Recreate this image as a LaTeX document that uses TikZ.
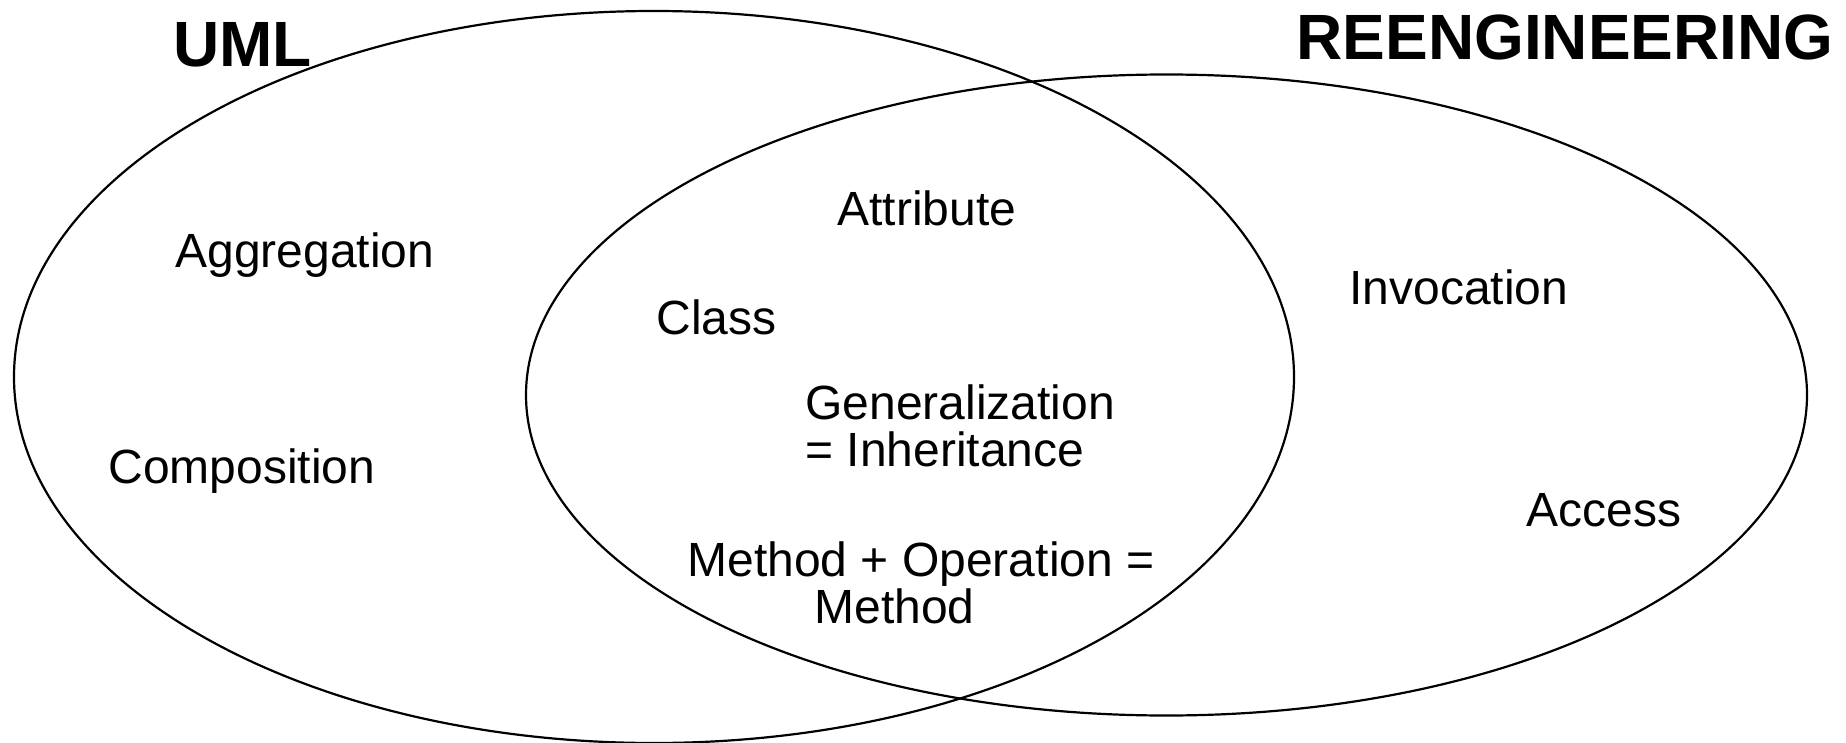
\documentclass[tikz,border=0pt]{standalone}
\usepackage{fontspec}
\setmainfont{Liberation Sans}
\begin{document}
\begin{tikzpicture}[x=0.5pt,y=-0.5pt,
  setline/.style={line width=1.1pt, draw=black},
  lbl/.style={inner sep=0pt, anchor=base west, font=\fontsize{24}{24}\selectfont},
  ttl/.style={inner sep=0pt, anchor=base west, font=\fontsize{32}{32}\selectfont\bfseries}]
\useasboundingbox (0,0) rectangle (1846,743);
\begin{scope}
\clip (0,0) rectangle (1846,743);
\draw[setline] (654,377) ellipse [x radius=640, y radius=366];
\draw[setline] (1166.5,395) ellipse [x radius=640.5, y radius=320.5];
\end{scope}
\node[ttl] (uml) at (173,67) {UML};
\node[ttl] (reeng) at (1296,60) {REENGINEERING};
\node[lbl] (aggr) at (175,268) {Aggregation};
\node[lbl] (comp) at (108,483) {Composition};
\node[lbl] (attr) at (837,226) {Attribute};
\node[lbl] (class) at (656,334) {Class};
\node[lbl, align=left, font=\fontsize{24}{23.5}\selectfont] (gen) at (805,466) {Generalization\\= Inheritance};
\node[lbl, anchor=base, align=center, font=\fontsize{24}{22}\selectfont] (meth) at (921,623) {Method + Operation =\\Method\hspace*{1.1em}};
\node[lbl] (inv) at (1349,304) {Invocation};
\node[lbl] (acc) at (1526,526) {Access};
\end{tikzpicture}
\end{document}
